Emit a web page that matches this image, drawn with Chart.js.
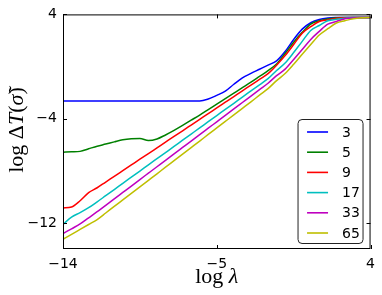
<!DOCTYPE html>
<html>
<head>
<meta charset="utf-8">
<script src="https://cdn.jsdelivr.net/npm/chart.js@4.4.1/dist/chart.umd.min.js"></script>
<style>
  html, body { margin: 0; padding: 0; background: #fff; }
</style>
</head>
<body>
<canvas id="chart" width="382" height="295"></canvas>
<script>
// log lambda sample positions
const logLambda = [-14, -13.5, -13, -12.5, -12, -11.5, -11, -10.5, -10, -9.5, -9, -8.5, -8, -7.5, -7, -6.5, -6, -5.5, -5, -4.5, -4, -3.5, -3, -2.5, -2, -1.5, -1, -0.5, 0, 0.5, 1, 1.5, 2, 2.5, 3, 3.5, 4];

// log dT for each n
const n3 = [-2.64, -2.64, -2.64, -2.64, -2.64, -2.64, -2.64, -2.64, -2.64, -2.64, -2.64, -2.64, -2.64, -2.64, -2.64, -2.64, -2.64, -2.49, -2.21, -1.89, -1.36, -0.87, -0.53, -0.21, 0.11, 0.44, 1.15, 2.08, 2.87, 3.36, 3.61, 3.72, 3.76, 3.77, 3.77, 3.77, 3.77];
const n5 = [-6.57, -6.54, -6.51, -6.31, -6.11, -5.95, -5.78, -5.62, -5.54, -5.52, -5.68, -5.56, -5.25, -4.90, -4.52, -4.12, -3.72, -3.30, -2.88, -2.46, -2.04, -1.62, -1.20, -0.76, -0.32, 0.20, 1.00, 1.86, 2.62, 3.26, 3.51, 3.65, 3.74, 3.77, 3.77, 3.77, 3.77];
const n9 = [-10.85, -10.78, -10.30, -9.68, -9.30, -8.86, -8.43, -7.99, -7.55, -7.11, -6.68, -6.24, -5.80, -5.36, -4.93, -4.49, -4.05, -3.61, -3.18, -2.74, -2.30, -1.86, -1.43, -0.99, -0.55, 0.10, 0.84, 1.69, 2.56, 3.06, 3.46, 3.58, 3.70, 3.75, 3.77, 3.77, 3.77];
const n17 = [-12.11, -11.55, -11.21, -10.83, -10.38, -9.91, -9.44, -8.96, -8.49, -8.02, -7.54, -7.07, -6.60, -6.13, -5.65, -5.18, -4.71, -4.23, -3.76, -3.29, -2.82, -2.34, -1.87, -1.40, -0.93, -0.30, 0.27, 1.07, 1.93, 2.77, 3.15, 3.51, 3.62, 3.71, 3.77, 3.77, 3.77];
const n33 = [-12.82, -12.45, -12.08, -11.61, -11.14, -10.65, -10.15, -9.66, -9.17, -8.67, -8.18, -7.69, -7.20, -6.70, -6.21, -5.72, -5.22, -4.73, -4.24, -3.75, -3.25, -2.76, -2.27, -1.77, -1.28, -0.70, -0.20, 0.54, 1.30, 2.08, 2.70, 3.25, 3.46, 3.66, 3.73, 3.77, 3.77];
const n65 = [-13.25, -12.88, -12.50, -12.12, -11.74, -11.24, -10.73, -10.23, -9.73, -9.23, -8.73, -8.23, -7.72, -7.22, -6.72, -6.22, -5.72, -5.21, -4.71, -4.21, -3.71, -3.21, -2.71, -2.20, -1.70, -1.08, -0.54, 0.17, 0.94, 1.69, 2.42, 2.90, 3.34, 3.52, 3.67, 3.74, 3.77];

const seriesLabels = ['3', '5', '9', '17', '33', '65'];
const seriesValues = [n3, n5, n9, n17, n33, n65];
const seriesColors = ['#0000ff', '#008000', '#ff0000', '#00bfbf', '#bf00bf', '#bfbf00'];

const xTicks = [-14, -5, 4];
const yTicks = [-12, -4, 4];

function minus(v) {
    return String(v).replace('-', '\u2212');
}

// draw a run of text pieces, some italic, centered on (0,0)
function drawPieces(ctx, pieces, size) {
    var total = 0;
    pieces.forEach(function (p) {
        ctx.font = (p[1] ? 'italic ' : '') + size + 'px "Liberation Serif", serif';
        p.w = ctx.measureText(p[0]).width;
        total += p.w;
    });
    var x = -total / 2;
    pieces.forEach(function (p) {
        ctx.font = (p[1] ? 'italic ' : '') + size + 'px "Liberation Serif", serif';
        ctx.fillText(p[0], x, 0);
        x += p.w;
    });
}

const framePlugin = {
    id: 'frame',
    afterDatasetsDraw(chart) {
        const ctx = chart.ctx;
        const a = chart.chartArea;
        const sx = chart.scales.x;
        const sy = chart.scales.y;
        ctx.save();
        ctx.strokeStyle = '#000';
        ctx.lineWidth = 1;
        ctx.strokeRect(a.left + 0.5, a.top + 0.5, a.right - a.left - 1, a.bottom - a.top - 1);

        // inward ticks on all four sides
        ctx.beginPath();
        xTicks.forEach(function (v) {
            var px = Math.round(sx.getPixelForValue(v)) + 0.5;
            ctx.moveTo(px, a.bottom); ctx.lineTo(px, a.bottom - 4);
            ctx.moveTo(px, a.top); ctx.lineTo(px, a.top + 4);
        });
        yTicks.forEach(function (v) {
            var py = Math.round(sy.getPixelForValue(v)) + 0.5;
            ctx.moveTo(a.left, py); ctx.lineTo(a.left + 4, py);
            ctx.moveTo(a.right, py); ctx.lineTo(a.right - 4, py);
        });
        ctx.stroke();

        // legend box in lower right corner
        var bw = 65, bh = 124;
        var bx = a.right - 8 - bw + 0.5, by = a.bottom - 6 - bh + 0.5;
        ctx.fillStyle = '#fff';
        ctx.strokeStyle = '#222';
        ctx.beginPath();
        ctx.roundRect(bx, by, bw, bh, 4);
        ctx.fill();
        ctx.stroke();
        ctx.font = '14px "DejaVu Sans", sans-serif';
        ctx.textBaseline = 'middle';
        ctx.textAlign = 'left';
        seriesLabels.forEach(function (lab, i) {
            var ry = by + 12.5 + i * 20.2;
            ctx.strokeStyle = seriesColors[i];
            ctx.lineWidth = 1.6;
            ctx.beginPath();
            ctx.moveTo(bx + 9, ry); ctx.lineTo(bx + 30, ry);
            ctx.stroke();
            ctx.fillStyle = '#000';
            ctx.fillText(lab, bx + 44, ry + 1);
        });

        // axis titles
        ctx.fillStyle = '#000';
        ctx.textBaseline = 'middle';
        ctx.textAlign = 'left';
        ctx.save();
        ctx.translate((a.left + a.right) / 2, 277);
        drawPieces(ctx, [['log ', false], ['\u03bb', true]], 22);
        ctx.restore();
        ctx.save();
        ctx.translate(17, 130);
        ctx.rotate(-Math.PI / 2);
        drawPieces(ctx, [['log ', false], ['\u0394', false], ['T', true], ['(', false], ['\u03c3\u0303', true], [')', false]], 22);
        ctx.restore();
        ctx.restore();
    }
};

const datasets = seriesLabels.map(function (lab, i) {
    return {
        label: lab,
        data: logLambda.map(function (x, j) { return { x: x, y: seriesValues[i][j] }; }),
        borderColor: seriesColors[i],
        borderWidth: 1.5,
        pointRadius: 0,
        fill: false,
        cubicInterpolationMode: 'monotone',
        order: seriesLabels.length - i
    };
});

const tickFont = { family: '"DejaVu Sans", sans-serif', size: 14 };

new Chart(document.getElementById('chart'), {
    type: 'line',
    data: { datasets: datasets },
    plugins: [framePlugin],
    options: {
        responsive: false,
        animation: false,
        devicePixelRatio: 1,
        layout: { padding: { top: 10, right: 8, left: 0, bottom: 0 } },
        plugins: { legend: { display: false }, tooltip: { enabled: false } },
        scales: {
            x: {
                type: 'linear',
                min: -14,
                max: 4,
                grid: { display: false, drawTicks: false },
                border: { display: false },
                afterBuildTicks: function (scale) { scale.ticks = xTicks.map(function (v) { return { value: v }; }); },
                afterFit: function (scale) { scale.height = 46; },
                ticks: { color: '#000', font: tickFont, padding: 7, maxRotation: 0, callback: function (v) { return minus(v); } }
            },
            y: {
                type: 'linear',
                min: -14,
                max: 4,
                grid: { display: false, drawTicks: false },
                border: { display: false },
                afterBuildTicks: function (scale) { scale.ticks = yTicks.map(function (v) { return { value: v }; }); },
                afterFit: function (scale) { scale.width = 63; },
                ticks: { color: '#000', font: tickFont, padding: 6, callback: function (v) { return minus(v); } }
            }
        }
    }
});
</script>
</body>
</html>
